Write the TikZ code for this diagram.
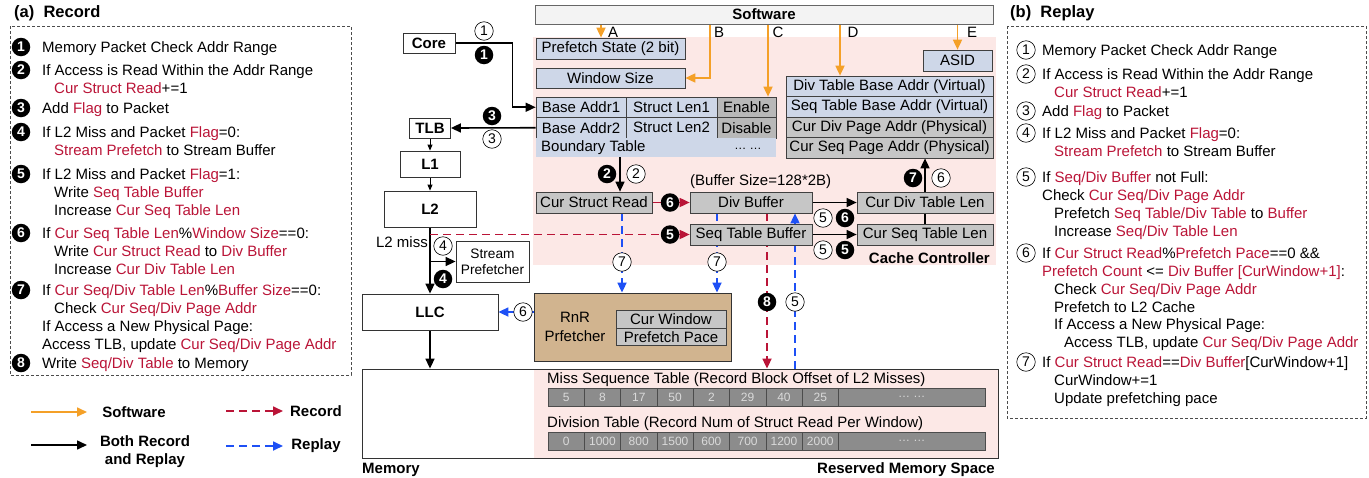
\documentclass[tikz,border=0pt]{standalone}
\usepackage{fontspec}
\setmainfont{Liberation Sans}
\usepackage{xcolor}
\usetikzlibrary{arrows.meta}
\pgfdeclarelayer{back}
\pgfdeclarelayer{wires}
\pgfsetlayers{back,wires,main}
\definecolor{rnrorange}{RGB}{244,160,40}
\definecolor{rnrred}{RGB}{186,20,55}
\definecolor{rnrblue}{RGB}{30,80,245}
\definecolor{rnrpink}{RGB}{252,232,230}
\definecolor{rnrcellblue}{RGB}{206,215,232}
\definecolor{rnrcellgray}{RGB}{198,198,198}
\definecolor{rnrtan}{RGB}{209,180,143}
\definecolor{rnrtabgray}{RGB}{140,140,140}
\definecolor{rnrtabtext}{RGB}{218,218,218}
\definecolor{rnrbar}{RGB}{243,243,243}
\newcommand{\listfont}{\fontsize{15}{17.8}\selectfont}
\newcommand{\cellfont}{\fontsize{15}{17}\selectfont}
\newcommand{\numfont}{\fontsize{14}{14}\selectfont}
\newcommand{\tabfont}{\fontsize{12}{12}\selectfont}
\newcommand{\headfont}{\fontsize{16.5}{18}\selectfont\bfseries}
\newcommand{\redtxt}[1]{\textcolor{rnrred}{#1}}
\newcommand{\listind}{\hspace*{12pt}}

\begin{document}
\begin{tikzpicture}[x=1pt, y=-1pt, >={Triangle[length=10pt,width=9pt]},
    cell/.style={draw=black!75, line width=0.7pt, inner sep=0pt, font=\cellfont, minimum height=21},
    bluecell/.style={cell, fill=rnrcellblue},
    graycell/.style={cell, fill=rnrcellgray},
    unit/.style={draw=black!80, line width=0.8pt, fill=white, inner sep=0pt, font=\cellfont\bfseries},
    bnum/.style={circle, fill=black, text=white, inner sep=0pt, minimum size=18.5, font=\numfont\bfseries},
    onum/.style={circle, draw=black, line width=0.6pt, fill=white, inner sep=0pt, minimum size=18.5, font=\numfont},
    listtext/.style={anchor=north west, inner sep=0pt, align=left, font=\listfont, yshift=7},
    tabcell/.style={draw=black!70, fill=rnrtabgray, text=rnrtabtext, inner sep=0pt, minimum height=18, font=\tabfont},
    both/.style={->, line width=1.6pt},
    small/.style={-{Triangle[length=6pt,width=5pt]}, line width=0.8pt},
    swline/.style={->, draw=rnrorange, line width=1.7pt},
    recline/.style={->, draw=rnrred, line width=1.7pt, dash pattern=on 8pt off 5pt},
    repline/.style={->, draw=rnrblue, line width=1.7pt, dash pattern=on 8pt off 5pt},
    frame/.style={draw=black!70, line width=0.8pt, dash pattern=on 3pt off 2pt}]
    \useasboundingbox (0,0) rectangle (1369,477);

    % Record list
    \node[font=\headfont, anchor=west, inner sep=0pt] (tita) at (14,13) {(a)\ \ Record};
    \draw[frame] (10,26) rectangle (351,375);
    \node[bnum] (rn1) at (21,47) {1};
    \node[listtext] (rl1) at (42,47) {\strut Memory Packet Check Addr Range};
    \node[bnum] (rn2) at (21,70) {2};
    \node[listtext] (rl2) at (42,70) {\strut If Access is Read Within the Addr Range\\\listind\redtxt{Cur Struct Read}+=1};
    \node[bnum] (rn3) at (21,108) {3};
    \node[listtext] (rl3) at (42,108) {\strut Add \redtxt{Flag} to Packet};
    \node[bnum] (rn4) at (21,132) {4};
    \node[listtext] (rl4) at (42,132) {\strut If L2 Miss and Packet \redtxt{Flag}=0:\\\listind\redtxt{Stream Prefetch} to Stream Buffer};
    \node[bnum] (rn5) at (21,174) {5};
    \node[listtext] (rl5) at (42,174) {\strut If L2 Miss and Packet \redtxt{Flag}=1:\\\listind Write \redtxt{Seq Table Buffer}\\\listind Increase \redtxt{Cur Seq Table Len}};
    \node[bnum] (rn6) at (21,233) {6};
    \node[listtext] (rl6) at (42,233) {\strut If \redtxt{Cur Seq Table Len}\%\redtxt{Window Size}==0:\\\listind Write \redtxt{Cur Struct Read} to \redtxt{Div Buffer}\\\listind Increase \redtxt{Cur Div Table Len}};
    \node[bnum] (rn7) at (21,290) {7};
    \node[listtext] (rl7) at (42,290) {\strut If \redtxt{Cur Seq/Div Table Len}\%\redtxt{Buffer Size}==0:\\\listind Check \redtxt{Cur Seq/Div Page Addr}\\If Access a New Physical Page:\\Access TLB, update \redtxt{Cur Seq/Div Page Addr}};
    \node[bnum] (rn8) at (21,363) {8};
    \node[listtext] (rl8) at (42,363) {\strut Write \redtxt{Seq/Div Table} to Memory};

    % Legend
    \coordinate (lgsa) at (31,412);
    \coordinate (lgsb) at (87,412);
    \coordinate (lgba) at (31,445);
    \coordinate (lgbb) at (87,445);
    \coordinate (lgra) at (226,411);
    \coordinate (lgrb) at (283,411);
    \coordinate (lgpa) at (226,446);
    \coordinate (lgpb) at (283,446);
    \draw[swline] (lgsa) -- (lgsb);
    \draw[both] (lgba) -- (lgbb);
    \draw[recline] (lgra) -- (lgrb);
    \draw[repline] (lgpa) -- (lgpb);
    \node[font=\cellfont\bfseries] (lgsw) at (134,412) {Software};
    \node[font=\fontsize{15}{18}\selectfont\bfseries, align=center] (lgboth) at (145,452) {Both Record\\and Replay};
    \node[font=\cellfont\bfseries] (lgrec) at (316,411) {Record};
    \node[font=\cellfont\bfseries] (lgrep) at (316,446) {Replay};

    % Replay list
    \node[font=\headfont, anchor=west, inner sep=0pt] (titb) at (1010,13) {(b)\ \ Replay};
    \draw[frame] (1007,26) rectangle (1366,418);
    \node[onum] (pn1) at (1026,50) {1};
    \node[listtext] (pl1) at (1042,50) {\strut Memory Packet Check Addr Range};
    \node[onum] (pn2) at (1026,74) {2};
    \node[listtext] (pl2) at (1042,74) {\strut If Access is Read Within the Addr Range\\\listind\redtxt{Cur Struct Read}+=1};
    \node[onum] (pn3) at (1026,111) {3};
    \node[listtext] (pl3) at (1042,111) {\strut Add \redtxt{Flag} to Packet};
    \node[onum] (pn4) at (1026,133) {4};
    \node[listtext] (pl4) at (1042,133) {\strut If L2 Miss and Packet \redtxt{Flag}=0:\\\listind\redtxt{Stream Prefetch} to Stream Buffer};
    \node[onum] (pn5) at (1026,177) {5};
    \node[listtext] (pl5) at (1042,177) {\strut If \redtxt{Seq/Div Buffer} not Full:\\Check \redtxt{Cur Seq/Div Page Addr}\\\listind Prefetch \redtxt{Seq Table/Div Table} to \redtxt{Buffer}\\\listind Increase \redtxt{Seq/Div Table Len}};
    \node[onum] (pn6) at (1026,253) {6};
    \node[listtext] (pl6) at (1042,253) {\strut If \redtxt{Cur Struct Read}\%\redtxt{Prefetch Pace}==0 \&\&\\\redtxt{Prefetch Count} <= \redtxt{Div Buffer [CurWindow+1]}:\\\listind Check \redtxt{Cur Seq/Div Page Addr}\\\listind Prefetch to L2 Cache\\\listind If Access a New Physical Page:\\\hspace*{22pt}Access TLB, update \redtxt{Cur Seq/Div Page Addr}};
    \node[onum] (pn7) at (1026,362) {7};
    \node[listtext] (pl7) at (1042,362) {\strut If \redtxt{Cur Struct Read}==\redtxt{Div Buffer}[CurWindow+1]\\\listind CurWindow+=1\\\listind Update prefetching pace};

    % Cache controller and memory backgrounds
    \begin{pgfonlayer}{back}
        \fill[rnrpink] (533,37) rectangle (996,265);
        \fill[rnrpink] (534,369) rectangle (998,458);
    \end{pgfonlayer}

    % Software bar
    \node[unit, fill=rnrbar, draw=black!60, minimum width=458, minimum height=19] (sw) at (764,14.5) {Software};

    % Core side
    \node[unit, minimum width=52, minimum height=20] (core) at (429,43) {Core};
    \node[unit, minimum width=41, minimum height=20] (tlb) at (430,128) {TLB};
    \node[unit, minimum width=60, minimum height=26] (l1) at (430,164) {L1};
    \node[unit, minimum width=92, minimum height=36] (l2) at (430,209) {L2};
    \node[unit, minimum width=136, minimum height=36] (llc) at (430,312) {LLC};
    \node[unit, font=\fontsize{13.7}{16}\selectfont, align=center, minimum width=73, minimum height=41] (sp) at (492.5,261.5) {Stream\\Prefetcher};

    % Registers
    \node[bluecell, minimum width=149] (ps) at (610.5,48.5) {Prefetch State (2 bit)};
    \node[bluecell, minimum width=149, minimum height=20] (ws) at (610.5,78) {Window Size};
    \node[bluecell, minimum width=90, minimum height=20.5] (ba1) at (581,107.25) {Base Addr1};
    \node[bluecell, minimum width=91, minimum height=20.5] (sl1) at (671.5,107.25) {Struct Len1};
    \node[graycell, fill=black!28, minimum width=59, minimum height=20.5] (en1) at (746.5,107.25) {Enable};
    \node[bluecell, minimum width=90, minimum height=20.5] (ba2) at (581,127.75) {Base Addr2};
    \node[bluecell, minimum width=91, minimum height=20.5] (sl2) at (671.5,127.75) {Struct Len2};
    \node[graycell, fill=black!28, minimum width=59, minimum height=20.5] (dis2) at (746.5,127.75) {Disable};
    \node[fill=rnrcellblue, inner sep=0pt, minimum width=240, minimum height=19.5] (bt) at (656,147.5) {};
    \node[font=\cellfont, anchor=west, inner sep=0pt] (btname) at (541,147.5) {Boundary Table};
    \node[font=\tabfont, inner sep=0pt] (btdots) at (748,149) {\dots\ \dots};
    \node[bluecell, minimum width=69] (asid) at (957.5,60.5) {ASID};
    \node[bluecell, minimum width=207, minimum height=20.5] (dtb) at (889.5,86.25) {Div Table Base Addr (Virtual)};
    \node[bluecell, minimum width=207, minimum height=20.5] (stbase) at (889.5,106.75) {Seq Table Base Addr (Virtual)};
    \node[graycell, minimum width=207, minimum height=20.5] (cdp) at (889.5,127.25) {Cur Div Page Addr (Physical)};
    \node[graycell, minimum width=207, minimum height=20.5] (csp) at (889.5,147.75) {Cur Seq Page Addr (Physical)};
    \node[graycell, minimum width=116] (csr) at (594,202.5) {Cur Struct Read};
    \node[graycell, minimum width=122] (divb) at (751,202.5) {Div Buffer};
    \node[graycell, minimum width=122] (seqb) at (751,234.5) {Seq Table Buffer};
    \node[graycell, minimum width=136] (cdl) at (925,202.5) {Cur Div Table Len};
    \node[graycell, minimum width=136] (csl) at (925,234.5) {Cur Seq Table Len};
    \node[font=\cellfont, anchor=west, inner sep=0pt] (bufsize) at (690,182) {(Buffer Size=128*2B)};
    \node[font=\cellfont\bfseries, anchor=east, inner sep=0pt] (ccname) at (990,258) {Cache Controller};

    % RnR prefetcher
    \node[draw=black!80, line width=0.8pt, fill=rnrtan, inner sep=0pt, minimum width=197, minimum height=68] (rnr) at (632.5,327) {};
    \node[font=\fontsize{15}{19}\selectfont, align=center] (rnrname) at (575,327) {RnR\\Prfetcher};
    \node[graycell, minimum width=110, minimum height=17.5] (cw) at (671,319.5) {Cur Window};
    \node[graycell, minimum width=110, minimum height=17.5] (pp) at (671,337) {Prefetch Pace};

    % Memory
    \node[draw=black!80, line width=0.8pt, inner sep=0pt, minimum width=636, minimum height=89] (mem) at (680,413.5) {};
    \node[font=\cellfont\bfseries, anchor=west, inner sep=0pt] (memname) at (362,470) {Memory};
    \node[font=\cellfont\bfseries, anchor=east, inner sep=0pt] (resname) at (995,470) {Reserved Memory Space};
    \node[font=\cellfont, anchor=west, inner sep=0pt] (mstitle) at (547,380) {Miss Sequence Table (Record Block Offset of L2 Misses)};
    \foreach \v [count=\i] in {5,8,17,50,2,29,40,25}
        \node[tabcell, minimum width=36.3] (ms\i) at (529.85+36.3*\i,397) {\v};
    \node[tabcell, minimum width=146.6] (msmore) at (911.7,397) {\dots\ \dots};
    \node[font=\cellfont, anchor=west, inner sep=0pt] (dttitle) at (547,424) {Division Table (Record Num of Struct Read Per Window)};
    \foreach \v [count=\i] in {0,1000,800,1500,600,700,1200,2000}
        \node[tabcell, minimum width=36.3] (dt\i) at (529.85+36.3*\i,441) {\v};
    \node[tabcell, minimum width=146.6] (dtmore) at (911.7,441) {\dots\ \dots};

    % Connectors
    \coordinate (xa) at (601,0);
    \coordinate (xb) at (710,0);
    \coordinate (xc) at (768,0);
    \coordinate (xd) at (840,0);
    \coordinate (xbt) at (620,0);
    \coordinate (x7a) at (622,0);
    \coordinate (x7b) at (717,0);
    \coordinate (x8) at (767,0);
    \coordinate (x5) at (795,0);
    \begin{pgfonlayer}{wires}
        \draw[swline] (sw.south -| xa) -- (ps.north -| xa);
        \draw[swline] (sw.south -| xb) |- (ws.east);
        \draw[swline] (sw.south -| xc) -- (en1.north -| xc);
        \draw[swline] (sw.south -| xd) -- (dtb.north -| xd);
        \draw[swline] (sw.south -| asid.north) -- (asid.north);
        \draw[both] (core.east) -- ++(57,0) |- (ba1.west);
        \draw[both] (ba2.west) -- (tlb.east);
        \draw[small] (tlb.south) -- (l1.north);
        \draw[small] (l1.south) -- (l2.north);
        \draw[both] (l2.south) -- (llc.north);
        \draw[both] (l2.south |- sp.west) -- (sp.west);
        \draw[both] (llc.south) -- (llc.south |- mem.north);
        \draw[both] (bt.south -| xbt) -- (csr.north -| xbt);
        \draw[both] (divb.east) -- (cdl.west);
        \draw[both] (seqb.east) -- (csl.west);
        \draw[line width=1.6pt] (csl.north) -- (cdl.south);
        \draw[both] (cdl.north) -- (cdl.north |- csp.south);
        \draw[->, draw=rnrred, line width=1.7pt] (csr.east) -- (divb.west);
        \draw[recline] (l2.south |- seqb.west) -- (seqb.west);
        \draw[recline] (divb.south -| x8) -- (mem.north -| x8);
        \draw[repline] (mem.north -| x5) -- (divb.south -| x5);
        \draw[repline] (csr.south -| x7a) -- (rnr.north -| x7a);
        \draw[repline] (divb.south -| x7b) -- (rnr.north -| x7b);
        \draw[->, draw=rnrblue, line width=1.7pt] (rnr.west |- llc.east) -- (llc.east);
    \end{pgfonlayer}

    % Software labels
    \node[font=\cellfont] (la) at (613,32) {A};
    \node[font=\cellfont] (lb) at (719,32) {B};
    \node[font=\cellfont] (lc) at (778,32) {C};
    \node[font=\cellfont] (ld) at (853,32) {D};
    \node[font=\cellfont] (le) at (972,32) {E};

    % Step labels
    \node[onum] (c1o) at (484,31) {1};
    \node[bnum] (c1b) at (484,55) {1};
    \node[bnum] (c3b) at (492,116) {3};
    \node[onum] (c3o) at (492,139) {3};
    \node[bnum] (c2b) at (607,174) {2};
    \node[onum] (c2o) at (636,174) {2};
    \node[font=\cellfont, anchor=east, inner sep=0pt] (miss) at (428,242) {L2 miss};
    \node[onum] (c4o) at (443,246) {4};
    \node[bnum] (c4b) at (443,279) {4};
    \node[bnum] (c6r) at (670,202.5) {6};
    \node[bnum] (c5r) at (670,234.5) {5};
    \node[onum] (c5a) at (823,218) {5};
    \node[bnum] (c6a) at (845,218) {6};
    \node[onum] (c5c) at (823,250) {5};
    \node[bnum] (c5d) at (845,250) {5};
    \node[bnum] (c7b) at (913,178) {7};
    \node[onum] (c6o) at (941,178) {6};
    \node[onum] (c7a) at (622,262) {7};
    \node[onum] (c7c) at (717,262) {7};
    \node[onum] (c6l) at (523,312) {6};
    \node[bnum] (c8b) at (767,302) {8};
    \node[onum] (c5m) at (795,302) {5};
\end{tikzpicture}
\end{document}
